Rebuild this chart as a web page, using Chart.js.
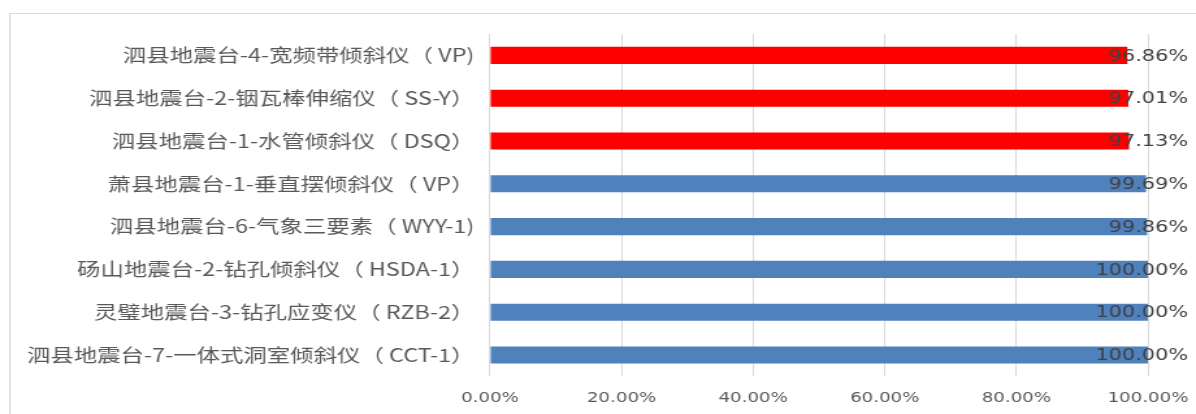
<!DOCTYPE html>
<html>
<head>
<meta charset="utf-8">
<script src="https://cdn.jsdelivr.net/npm/chart.js@4/dist/chart.umd.min.js"></script>
<style>
  html, body { margin: 0; padding: 0; background: #fff; overflow: hidden; }
  #wrap { position: absolute; left: 0; top: 0; width: 920px; height: 414px; transform: scaleX(1.3); transform-origin: 0 0; }
  #frame { position: absolute; left: 9px; top: 13px; width: 1300px; height: 500px; border-top: 1px solid #d9d9d9; border-left: 2px solid #e3e3e3; pointer-events: none; }
</style>
</head>
<body>
<div id="wrap"><canvas id="c" width="920" height="414"></canvas></div>
<div id="frame"></div>
<script>
const categories = [
  '泗县地震台-4-宽频带倾斜仪（ VP)',
  '泗县地震台-2-铟瓦棒伸缩仪（ SS-Y）',
  '泗县地震台-1-水管倾斜仪（ DSQ）',
  '萧县地震台-1-垂直摆倾斜仪（ VP）',
  '泗县地震台-6-气象三要素（ WYY-1)',
  '砀山地震台-2-钻孔倾斜仪（ HSDA-1）',
  '灵璧地震台-3-钻孔应变仪（ RZB-2）',
  '泗县地震台-7-一体式洞室倾斜仪（ CCT-1）'
];
const values = [96.86, 97.01, 97.13, 99.69, 99.86, 100.00, 100.00, 100.00];
const barColors = ['#FF0000', '#FF0000', '#FF0000', '#4F81BD', '#4F81BD', '#4F81BD', '#4F81BD', '#4F81BD'];
const xTicks = [0, 20, 40, 60, 80, 100];

const S = 1.3; // horizontal stretch of the whole picture

const valueLabels = {
  id: 'valueLabels',
  afterDatasetsDraw(chart) {
    const ctx = chart.ctx;
    const xs = chart.scales.x;
    const meta = chart.getDatasetMeta(0);
    ctx.save();
    ctx.font = '16px "DejaVu Sans"';
    ctx.fillStyle = '#404040';
    ctx.textAlign = 'right';
    ctx.textBaseline = 'middle';
    meta.data.forEach((bar, i) => {
      ctx.fillText(values[i].toFixed(2) + '%', xs.getPixelForValue(xTicks[xTicks.length - 1]) + 40 / S, bar.y + 1);
    });
    ctx.restore();
  }
};

new Chart(document.getElementById('c'), {
  type: 'bar',
  data: {
    labels: categories,
    datasets: [{
      data: values,
      backgroundColor: barColors,
      borderWidth: 0,
      barPercentage: 0.4,
      categoryPercentage: 1.0
    }]
  },
  options: {
    indexAxis: 'y',
    responsive: false,
    animation: false,
    layout: { padding: { top: 34, right: 920 - 1148 / S, bottom: 0, left: 0 } },
    plugins: { legend: { display: false }, tooltip: { enabled: false } },
    scales: {
      x: {
        min: 0, max: 100,
        afterBuildTicks(scale) { scale.ticks = xTicks.map(v => ({ value: v })); },
        afterFit(scale) { scale.height = 414 - 376.4; scale.paddingLeft = 0; scale.paddingRight = 0; },
        grid: { color: '#d9d9d9', lineWidth: 1, drawTicks: false },
        border: { display: false },
        ticks: {
          padding: 14,
          color: '#595959',
          font: { family: '"DejaVu Sans"', size: 14 },
          callback: v => Number(v).toFixed(2) + '%'
        }
      },
      y: {
        afterFit(scale) { scale.width = 490 / S; scale.paddingTop = 0; scale.paddingBottom = 0; },
        grid: { display: false, drawTicks: false },
        border: { display: false },
        ticks: {
          padding: 12,
          color: '#595959',
          font: { family: '"Noto Sans CJK SC"', size: 18 }
        }
      }
    }
  },
  plugins: [valueLabels]
});
</script>
</body>
</html>
